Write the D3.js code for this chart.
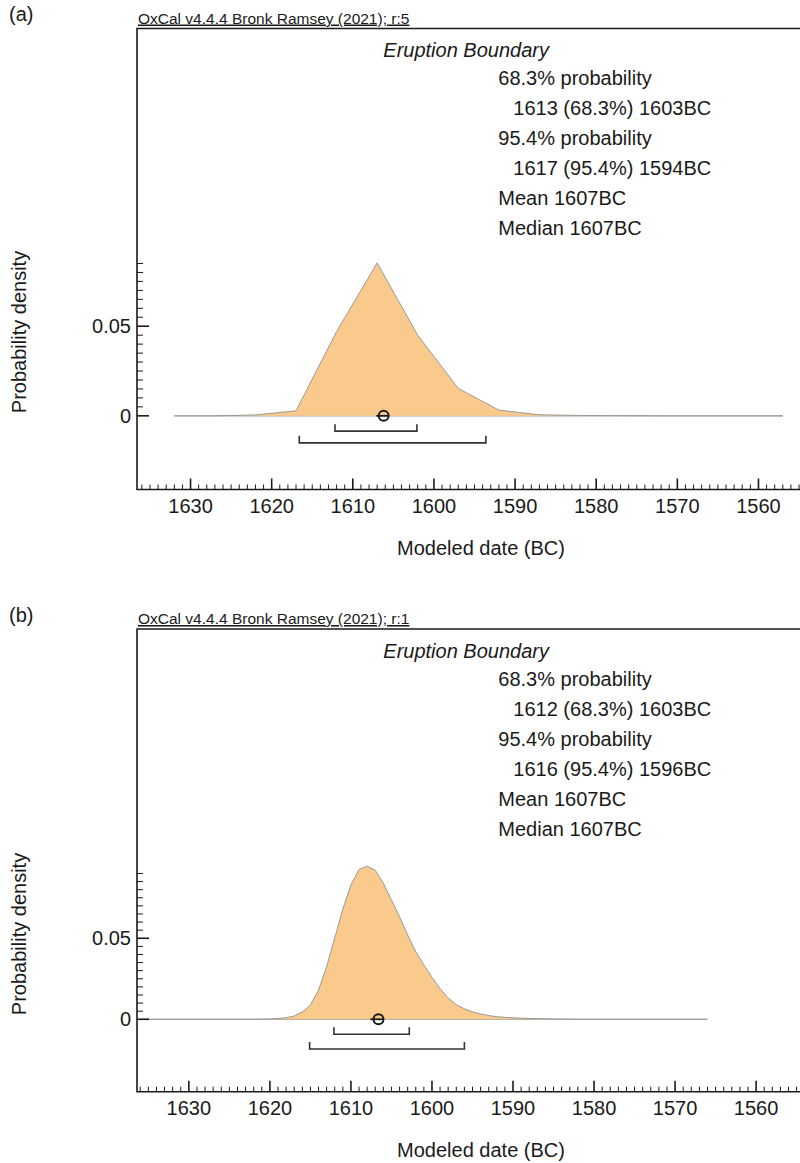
<!DOCTYPE html>
<html>
<head>
<meta charset="utf-8">
<script src="https://cdn.jsdelivr.net/npm/d3@7"></script>
<style>
  html, body { margin: 0; padding: 0; background: #fff; }
  svg { display: block; font-family: "Liberation Sans", Arial, Helvetica, sans-serif; }
</style>
</head>
<body>
<svg id="chart" width="800" height="1163"></svg>
<script>
// panel (a): OxCal r:5, density sampled every 5 years
const yearsA = [1632, 1627, 1622, 1617, 1612, 1607, 1602, 1597, 1592, 1587, 1582, 1577, 1572, 1567, 1562, 1557]
const densityA = [0, 0, 0.0005, 0.0028, 0.047, 0.0853, 0.045, 0.0153, 0.0032, 0.0006, 0.0002, 0.0001, 0, 0, 0, 0]

// panel (b): OxCal r:1, density every year
const yearsB = [
  1636, 1635, 1634, 1633, 1632, 1631, 1630, 1629, 1628, 1627, 1626, 1625, 1624, 1623, 1622, 1621,
  1620, 1619, 1618, 1617, 1616, 1615, 1614, 1613, 1612, 1611, 1610, 1609, 1608, 1607, 1606, 1605,
  1604, 1603, 1602, 1601, 1600, 1599, 1598, 1597, 1596, 1595, 1594, 1593, 1592, 1591, 1590, 1589,
  1588, 1587, 1586, 1585, 1584, 1583, 1582, 1581, 1580, 1579, 1578, 1577, 1576, 1575, 1574, 1573,
  1572, 1571, 1570, 1569, 1568, 1567, 1566]
const densityB = [
  0, 0, 0, 0, 0, 0, 0, 0, 0, 0, 0, 0, 0, 0, 0, 0.0001,
  0.0002, 0.0005, 0.001, 0.002, 0.0045, 0.0088, 0.018, 0.0325, 0.0502, 0.068, 0.083, 0.0925, 0.0945, 0.092, 0.084, 0.0737,
  0.0632, 0.052, 0.0417, 0.0336, 0.0259, 0.0188, 0.0132, 0.009, 0.0065, 0.0046, 0.0033, 0.0023, 0.0016, 0.0012, 0.0009, 0.0007,
  0.0005, 0.0004, 0.0003, 0.0002, 0.0002, 0.0001, 0, 0, 0, 0, 0, 0, 0, 0, 0, 0,
  0, 0, 0, 0, 0, 0, 0]

const xTickYears = [1630, 1620, 1610, 1600, 1590, 1580, 1570, 1560]
const yTickValues = [0, 0.05]

// ranges drawn under the curve, mean circle and median stub
const range68A = [1612.2, 1602.1]
const range95A = [1616.6, 1593.6]
const meanA = 1606.2
const medianA = 1607.1
const range68B = [1612.1, 1602.8]
const range95B = [1615.1, 1596.0]
const meanB = 1606.6
const medianB = 1607.6

const summaryA = [
  ['68.3% probability', 0],
  ['1613 (68.3%) 1603BC', 1],
  ['95.4% probability', 0],
  ['1617 (95.4%) 1594BC', 1],
  ['Mean 1607BC', 0],
  ['Median 1607BC', 0],
]
const summaryB = [
  ['68.3% probability', 0],
  ['1612 (68.3%) 1603BC', 1],
  ['95.4% probability', 0],
  ['1616 (95.4%) 1596BC', 1],
  ['Mean 1607BC', 0],
  ['Median 1607BC', 0],
]

const panels = [
  {
    label: '(a)', header: 'OxCal v4.4.4 Bronk Ramsey (2021); r:5',
    years: yearsA, density: densityA,
    r68: range68A, r95: range95A, mean: meanA, median: medianA, summary: summaryA,
    top: 28.5, axisY: 489.5, xDomain: [1636.6, 1551.8], yDomain: [-0.0411, 0.2161],
    ylabelY: 332, bar68: 15.3, bar95: 27,
  },
  {
    label: '(b)', header: 'OxCal v4.4.4 Bronk Ramsey (2021); r:1',
    years: yearsB, density: densityB,
    r68: range68B, r95: range95B, mean: meanB, median: medianB, summary: summaryB,
    top: 629, axisY: 1091.7, xDomain: [1636.4, 1551.5], yDomain: [-0.0447, 0.2409],
    ylabelY: 934, bar68: 15, bar95: 29.7,
  },
]

const LEFT = 137
const RIGHT = 825
const INK = '#1a1a1a'
const svg = d3.select('#chart')

panels.forEach(p => drawPanel(p))

function drawPanel (p) {
  const g = svg.append('g')
  const x = d3.scaleLinear().domain(p.xDomain).range([LEFT, RIGHT])
  const y = d3.scaleLinear().domain(p.yDomain).range([p.axisY, p.top])
  const y0 = y(0)

  // labels above frame
  g.append('text').attr('x', 9).attr('y', p.top - 7.5)
    .attr('font-size', 20).attr('fill', INK).text(p.label)
  g.append('text').attr('x', 138).attr('y', p.top - 5)
    .attr('font-size', 15.5).attr('fill', INK)
    .attr('text-decoration', 'underline').text(p.header)

  // density curve
  const pts = p.years.map((yr, i) => [yr, p.density[i]])
  g.append('line')
    .attr('x1', x(d3.max(p.years))).attr('x2', x(d3.min(p.years)))
    .attr('y1', y0).attr('y2', y0)
    .attr('stroke', '#a8a8a8').attr('stroke-width', 1.2)
  g.append('path').datum(pts)
    .attr('d', d3.area().x(d => x(d[0])).y0(y0).y1(d => y(d[1])))
    .attr('fill', '#f9ca8c')
  g.append('path').datum(pts)
    .attr('d', d3.line().x(d => x(d[0])).y(d => y(d[1])))
    .attr('fill', 'none').attr('stroke', '#9a9a9a').attr('stroke-width', 1)

  // probability ranges
  const bracket = (r, off) => {
    const by = y0 + off
    g.append('path')
      .attr('d', `M${x(r[0])},${by - 7}V${by}H${x(r[1])}V${by - 7}`)
      .attr('fill', 'none').attr('stroke', '#333').attr('stroke-width', 1.6)
  }
  bracket(p.r68, p.bar68)
  bracket(p.r95, p.bar95)

  // mean / median marker
  const cx = x(p.mean)
  g.append('line').attr('x1', x(p.median)).attr('x2', cx + 5)
    .attr('y1', y0).attr('y2', y0).attr('stroke', INK).attr('stroke-width', 1.8)
  g.append('circle').attr('cx', cx).attr('cy', y0).attr('r', 5)
    .attr('fill', 'none').attr('stroke', INK).attr('stroke-width', 2)

  // frame: top + left + bottom axis
  g.append('path')
    .attr('d', `M${RIGHT},${p.top}H${LEFT}V${p.axisY}H${RIGHT}`)
    .attr('fill', 'none').attr('stroke', INK).attr('stroke-width', 1.6)

  // x ticks, inside the frame
  const minorYears = d3.range(Math.ceil(p.xDomain[1]), p.xDomain[0], 1)
  g.selectAll(null).data(minorYears).join('line')
    .attr('x1', d => x(d)).attr('x2', d => x(d))
    .attr('y1', p.axisY).attr('y2', d => p.axisY - (d % 10 === 0 ? 11 : 5))
    .attr('stroke', INK).attr('stroke-width', d => d % 10 === 0 ? 1.6 : 1)
  g.selectAll(null).data(xTickYears).join('text')
    .attr('x', d => x(d)).attr('y', p.axisY + 23)
    .attr('text-anchor', 'middle').attr('font-size', 20).attr('fill', INK)
    .text(d => d)
  g.append('text').attr('x', (LEFT + RIGHT) / 2).attr('y', p.axisY + 65.5)
    .attr('text-anchor', 'middle').attr('font-size', 20).attr('fill', INK)
    .text('Modeled date (BC)')

  // y ticks up to the peak density
  const topTick = Math.floor(d3.max(p.density) / 0.005 + 1e-6)
  const minorY = d3.range(0, topTick + 1).map(i => i * 0.005)
  g.selectAll(null).data(minorY).join('line')
    .attr('x1', LEFT).attr('x2', (d, i) => LEFT + (i % 10 === 0 ? 12 : 6))
    .attr('y1', d => y(d)).attr('y2', d => y(d))
    .attr('stroke', INK).attr('stroke-width', (d, i) => i % 10 === 0 ? 1.6 : 1)
  g.selectAll(null).data(yTickValues).join('text')
    .attr('x', LEFT - 6).attr('y', d => y(d)).attr('dy', '0.36em')
    .attr('text-anchor', 'end').attr('font-size', 20).attr('fill', INK)
    .text(d => d === 0 ? '0' : d3.format('.2f')(d))
  g.append('text')
    .attr('transform', `translate(26,${p.ylabelY}) rotate(-90)`)
    .attr('text-anchor', 'middle').attr('font-size', 20).attr('fill', INK)
    .text('Probability density')

  // summary block
  g.append('text').attr('x', 383.3).attr('y', p.top + 28.8)
    .attr('font-size', 20).attr('font-style', 'italic').attr('fill', INK)
    .text('Eruption Boundary')
  g.selectAll(null).data(p.summary).join('text')
    .attr('x', d => 498.3 + d[1] * 15)
    .attr('y', (d, i) => p.top + 56.5 + i * 30)
    .attr('font-size', 20).attr('fill', INK)
    .text(d => d[0])
}
</script>
</body>
</html>
